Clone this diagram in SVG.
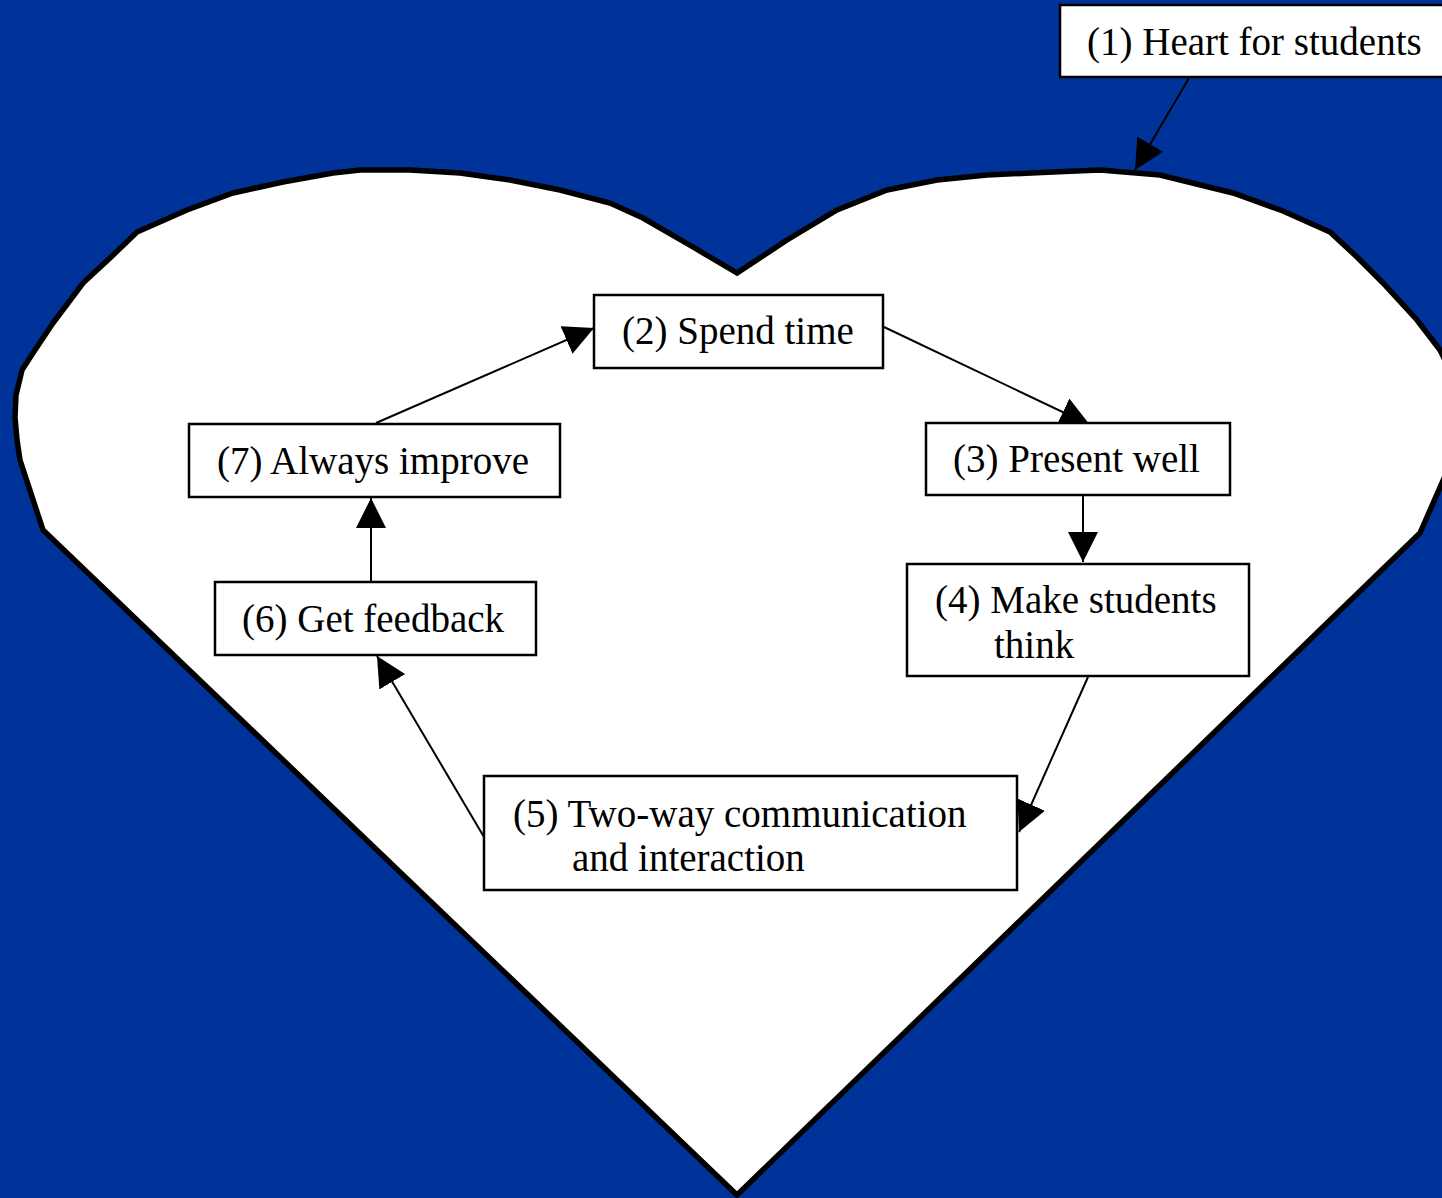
<svg xmlns="http://www.w3.org/2000/svg" width="1442" height="1198" viewBox="0 0 1442 1198">
<defs>
<style>
.box{fill:#fff;stroke:#000;stroke-width:2.5}
.lbl{font-family:"Liberation Serif","Times New Roman",serif;font-size:39px;fill:#000}
.con{stroke:#000;stroke-width:2;fill:none;marker-end:url(#ah)}
</style>
<marker id="ah" markerUnits="userSpaceOnUse" markerWidth="30" markerHeight="30" refX="28" refY="14" orient="auto" viewBox="0 0 28 28">
<path d="M0,0 L28,14 L0,28 Z" fill="#000"/>
</marker>
</defs>
<rect x="0" y="0" width="1442" height="1198" fill="#003399"/>
<g id="heart">
<path d="M737,273 L693,247 L643,218 L610,203 L560,190 L510,180 L460,173 L410,170 L360,170 L333,173 L283,182 L233,193 L187,210 L137,232 L110,258 L83,283 L53,323 L33,353 L22,370 L16,395 L15,417 L17,440 L20,460 L43,530 L737,1195 L1420,533 L1452,460 L1457,417 L1450,370 L1440,350 L1417,320 L1383,283 L1357,257 L1330,232 L1283,211 L1233,193 L1160,175 L1100,170 L1053,172 L987,175 L937,180 L887,190 L837,210 L787,240 Z" fill="#fff" stroke="#000" stroke-width="5.5" stroke-linejoin="miter"/>
</g>
<g id="connectors">
<line class="con" x1="1189" y1="78" x2="1135" y2="170"/>
<line class="con" x1="884" y1="327" x2="1090" y2="425"/>
<line class="con" x1="1083" y1="496" x2="1083" y2="562"/>
<line class="con" x1="1088" y1="677" x2="1019" y2="832"/>
<line class="con" x1="484" y1="837" x2="377" y2="656"/>
<line class="con" x1="371" y1="582" x2="371" y2="498"/>
<line class="con" x1="376" y1="423" x2="594" y2="328"/>
</g>
<g id="node1">
<rect class="box" x="1060" y="5" width="390" height="72"/>
<text class="lbl" x="1087" y="55">(1) Heart for students</text>
</g>
<g id="node2">
<rect class="box" x="594" y="295" width="289" height="73"/>
<text class="lbl" x="622" y="344">(2) Spend time</text>
</g>
<g id="node3">
<rect class="box" x="926" y="423" width="304" height="72"/>
<text class="lbl" x="953" y="472">(3) Present well</text>
</g>
<g id="node4">
<rect class="box" x="907" y="564" width="342" height="112"/>
<text class="lbl" x="935" y="613">(4) Make students</text>
<text class="lbl" x="994" y="658">think</text>
</g>
<g id="node5">
<rect class="box" x="484" y="776" width="533" height="114"/>
<text class="lbl" x="513" y="827">(5) Two-way communication</text>
<text class="lbl" x="572" y="871">and interaction</text>
</g>
<g id="node6">
<rect class="box" x="215" y="582" width="321" height="73"/>
<text class="lbl" x="242" y="632">(6) Get feedback</text>
</g>
<g id="node7">
<rect class="box" x="189" y="424" width="371" height="73"/>
<text class="lbl" x="217" y="474">(7) Always improve</text>
</g>
</svg>
